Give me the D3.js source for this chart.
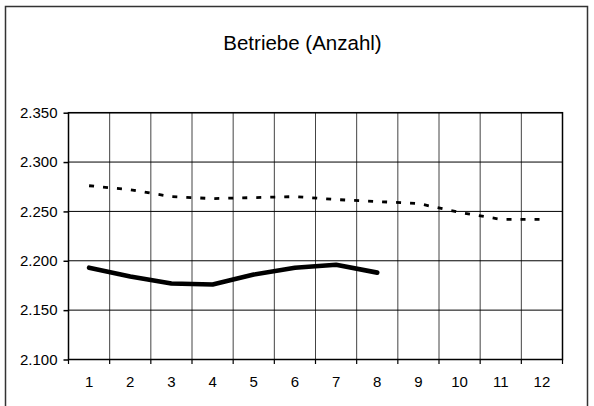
<!DOCTYPE html>
<html>
<head>
<meta charset="utf-8">
<script src="https://cdn.jsdelivr.net/npm/d3@7"></script>
<style>
    body { margin: 0; background: #fff; }
    svg { display: block; font-family: "Liberation Sans", Arial, sans-serif; }
    .axis text { font-size: 15px; fill: #000; }
</style>
</head>
<body>
<svg></svg>
<script>

// Months on the x axis.
var months = [1, 2, 3, 4, 5, 6, 7, 8, 9, 10, 11, 12];

// Previous year (dashed) and current year (solid), number of businesses.
var previousYear = [2276, 2272, 2265, 2263, 2264, 2265, 2262, 2260, 2258, 2249, 2242, 2242];
var currentYear = [2193, 2184, 2177, 2176, 2186, 2193, 2196, 2188];

var yTicks = [2100, 2150, 2200, 2250, 2300, 2350];

var title = 'Betriebe (Anzahl)';


//==========================================================================
// Create the graphic elements.

var width = 594;
var height = 406;

var plot = {
    top: 112.7,
    right: 562.5,
    bottom: 359.5,
    left: 68.5
};

var svg = d3.select('svg')
    .attr('width', width)
    .attr('height', height)
;

// Outer frame, the bottom edge runs off the picture.
svg.append('path')
    .attr('d', 'M5.5,' + (height + 5) + 'V6.5H587.5V' + (height + 5))
    .attr('fill', 'none')
    .attr('stroke', '#333')
    .attr('stroke-width', 1.5)
;

svg.append('text')
    .attr('x', 302.5)
    .attr('y', 49.5)
    .attr('text-anchor', 'middle')
    .style('font-size', '20.5px')
    .text(title)
;

var xScale = d3.scaleBand()
    .domain(months)
    .range([plot.left, plot.right])
    .padding(0)
;

var yScale = d3.scaleLinear()
    .domain([2100, 2350])
    .range([plot.bottom, plot.top])
;

var locale = d3.formatLocale({
    decimal: ',',
    thousands: '.',
    grouping: [3],
    currency: ['', ' €']
});
var fmt = locale.format(',.0f');

// Vertical grid lines sit on the band edges.
var xEdges = months.map(function(m) { return xScale(m); }).concat([plot.right]);

svg.append('g')
    .selectAll('line')
    .data(xEdges.slice(1, -1))
    .enter()
    .append('line')
    .attr('x1', function(d) { return d; })
    .attr('x2', function(d) { return d; })
    .attr('y1', plot.top)
    .attr('y2', plot.bottom)
    .attr('stroke', '#444')
    .attr('stroke-width', 1)
;

svg.append('g')
    .selectAll('line')
    .data(yTicks)
    .enter()
    .append('line')
    .attr('x1', plot.left)
    .attr('x2', plot.right)
    .attr('y1', function(d) { return yScale(d); })
    .attr('y2', function(d) { return yScale(d); })
    .attr('stroke', '#000')
    .attr('stroke-width', 1)
;

// Plot frame.
svg.append('rect')
    .attr('x', plot.left)
    .attr('y', plot.top)
    .attr('width', plot.right - plot.left)
    .attr('height', plot.bottom - plot.top)
    .attr('fill', 'none')
    .attr('stroke', '#000')
    .attr('stroke-width', 1.5)
;

var yAxis = svg.append('g')
    .attr('class', 'axis')
    .attr('transform', 'translate(' + plot.left + ',0)')
    .call(d3.axisLeft(yScale)
        .tickValues(yTicks)
        .tickSize(5)
        .tickSizeOuter(0)
        .tickPadding(6)
        .tickFormat(fmt))
;
yAxis.select('.domain').remove();
yAxis.selectAll('line').attr('stroke-width', 1.5);

// Tick marks on the band edges, labels at the band centres.
var xAxis = svg.append('g')
    .attr('class', 'axis')
;
xAxis.selectAll('line')
    .data(xEdges)
    .enter()
    .append('line')
    .attr('x1', function(d) { return d; })
    .attr('x2', function(d) { return d; })
    .attr('y1', plot.bottom)
    .attr('y2', plot.bottom + 4.5)
    .attr('stroke', '#000')
    .attr('stroke-width', 1.2)
;
xAxis.selectAll('text')
    .data(months)
    .enter()
    .append('text')
    .attr('x', function(d) { return xScale(d) + xScale.bandwidth() / 2; })
    .attr('y', 387)
    .attr('text-anchor', 'middle')
    .text(function(d) { return d; })
;

var line = d3.line()
    .x(function(d, i) { return xScale(months[i]) + xScale.bandwidth() / 2; })
    .y(function(d) { return yScale(d); })
;

svg.append('path')
    .datum(previousYear)
    .attr('d', line)
    .attr('fill', 'none')
    .attr('stroke', '#000')
    .attr('stroke-width', 2.8)
    .attr('stroke-dasharray', '5,9')
;

svg.append('path')
    .datum(currentYear)
    .attr('d', line)
    .attr('fill', 'none')
    .attr('stroke', '#000')
    .attr('stroke-width', 4.6)
    .attr('stroke-linecap', 'round')
    .attr('stroke-linejoin', 'round')
;

</script>
</body>
</html>
